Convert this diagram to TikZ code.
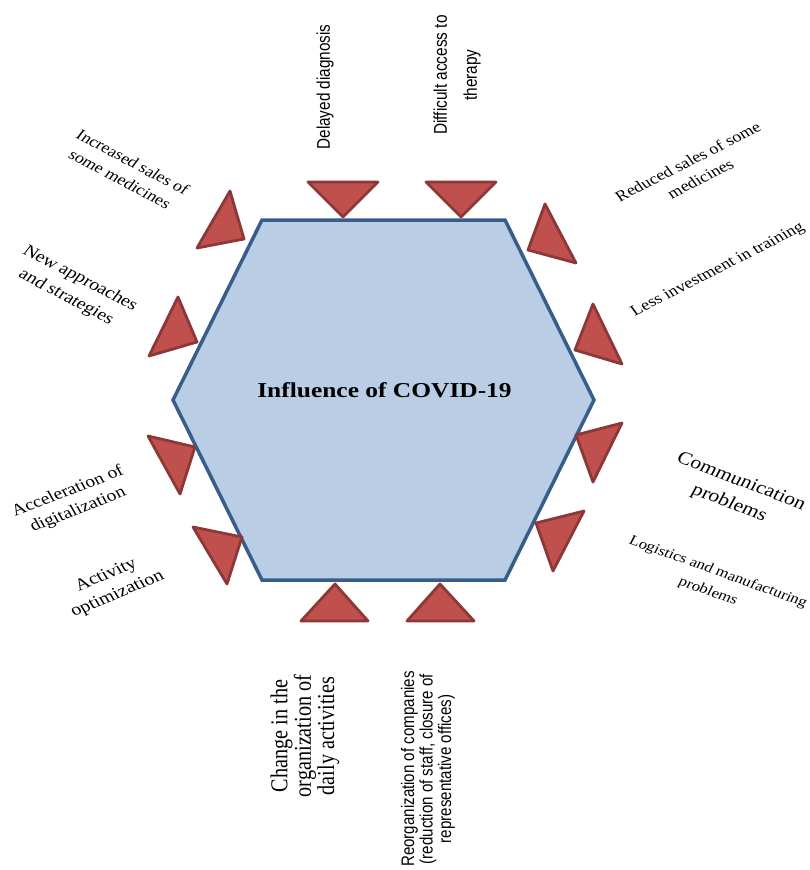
\documentclass[tikz,border=0pt]{standalone}
\usepackage{fontspec}
\setmainfont{Liberation Serif}
\newfontfamily\arialf{Liberation Sans}
\definecolor{hexfill}{HTML}{B9CDE5}
\definecolor{hexline}{HTML}{385D8A}
\definecolor{trifill}{HTML}{C0504D}
\definecolor{triline}{HTML}{8C3836}
\newcommand\fs[2]{\fontsize{#1}{#2}\selectfont}
\newcommand\lbl[5]{%
  \begin{scope}[shift={(#2)},xscale=1.2]
    \node[transform shape,rotate=#3,lbltext,#4] (#1) at (0,0) {#5};
  \end{scope}}
\tikzset{
  lbltext/.style={inner sep=0pt,align=center,text=black},
  hexa/.style={fill=hexfill,draw=hexline,line width=3.5pt,line join=miter},
  tri/.style={fill=trifill,draw=triline,line width=2.8pt,line join=round},
}
\begin{document}
\begin{tikzpicture}[x=1pt,y=-1pt]
\useasboundingbox (0,0) rectangle (809,870);
\fill[white] (0,0) rectangle (809,870);
% hexagon
\coordinate (h1) at (262,220);
\coordinate (h2) at (505,220);
\coordinate (h3) at (594,400);
\coordinate (h4) at (505,580);
\coordinate (h5) at (262,580);
\coordinate (h6) at (173,400);
\draw[hexa] (h1) -- (h2) -- (h3) -- (h4) -- (h5) -- (h6) -- cycle;
% triangles
\draw[tri] (308,182) -- (378,182) -- (343,217) -- cycle;
\draw[tri] (426,182) -- (496,182) -- (461,217) -- cycle;
\draw[tri] (230,191) -- (244,239) -- (197,248) -- cycle;
\draw[tri] (178,297) -- (197,342) -- (149,356) -- cycle;
\draw[tri] (545,204) -- (576,263) -- (528,250) -- cycle;
\draw[tri] (593,304) -- (622,364) -- (575,350) -- cycle;
\draw[tri] (148,436) -- (195,447) -- (180,494) -- cycle;
\draw[tri] (193,527) -- (242,537) -- (227,584) -- cycle;
\draw[tri] (622,423) -- (576,435) -- (593,482) -- cycle;
\draw[tri] (584,511) -- (536,523) -- (553,571) -- cycle;
\draw[tri] (335,584) -- (368,621) -- (301,621) -- cycle;
\draw[tri] (440,584) -- (474,621) -- (407,621) -- cycle;
% labels
\lbl{title}{384.5,390}{0}{font=\fs{21.2}{24}\bfseries}{Influence of COVID-19}
\lbl{l1}{325,87}{90}{font=\arialf\fs{15.3}{18}}{Delayed diagnosis}
\lbl{l2}{457,75}{90}{font=\arialf\fs{15.4}{25}}{Difficult access to\\therapy}
\lbl{l3}{694,170}{31.3}{font=\fs{15.2}{20}}{Reduced sales of some\\medicines}
\lbl{l4}{718,270}{31.3}{font=\fs{15.3}{18}}{Less investment in training}
\lbl{l5}{735,493}{-24.6}{font=\fs{18}{24}}{Communication\\problems}
\lbl{l6}{713,582}{-23.3}{font=\fs{14}{21}}{Logistics and manufacturing\\problems}
\lbl{l7}{428,769}{90}{font=\arialf\fs{15.1}{15.4}}{Reorganization of companies\\(reduction of staff, closure of\\representative offices)}
\lbl{l8}{305,736}{90}{font=\fs{20.2}{16.7}}{Change in the\\organization of\\daily activities}
\lbl{l9}{112,585}{26.6}{font=\fs{16.8}{21}}{Activity\\optimization}
\lbl{l10}{73,501}{25}{font=\fs{16.3}{20}}{Acceleration of\\digitalization}
\lbl{l11}{73,288}{-32}{font=\fs{16.5}{22}}{New approaches\\and strategies}
\lbl{l12}{126.5,170.5}{-32.5}{font=\fs{15.2}{20}}{Increased sales of\\some medicines}
\end{tikzpicture}
\end{document}
